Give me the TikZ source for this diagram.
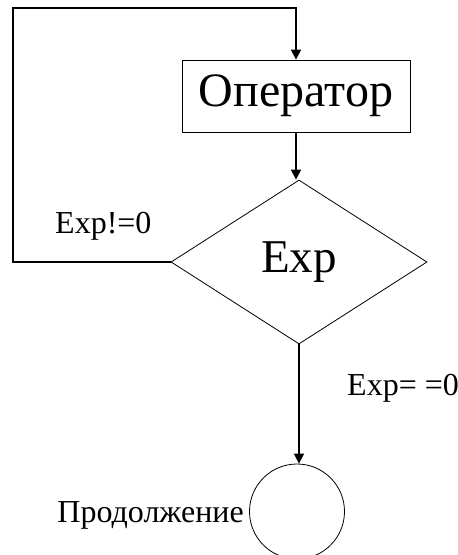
\documentclass[tikz,border=0pt]{standalone}
\usepackage{fontspec}
\setmainfont{Liberation Serif}
\usetikzlibrary{shapes.geometric,arrows.meta}

\begin{document}
\begin{tikzpicture}
[x=1pt, y=-1pt, draw=black,
block/.style={rectangle, draw, line width=0.8pt, inner sep=0pt,
    minimum width=228pt, minimum height=72pt, font=\fontsize{48}{52}\selectfont},
test/.style={diamond, draw, line width=0.8pt, inner sep=0pt,
    minimum width=256pt, minimum height=164pt, font=\fontsize{47}{50}\selectfont},
stop/.style={circle, draw, line width=0.8pt, inner sep=0pt, minimum size=95pt},
note/.style={inner sep=0pt, font=\fontsize{32}{34}\selectfont},
wire/.style={line width=1.6pt},
flow/.style={wire, -{Triangle[length=10pt, width=10pt]}}]

\useasboundingbox (0,0) rectangle (458,555);

\node[block] (op) at (296, 96) {Оператор};
\node[test] (exp) at (299, 262) {Exp};
\node[stop] (cont) at (297, 511.5) {};
\coordinate (back) at (13, 8);

% loop back while the condition holds
\draw[flow] (op.south) -- (op.south |- exp.north);
\draw[flow] (exp.west) -| (back) -| (op.north);
\draw[flow] (exp.south) -- (exp.south |- cont.north);

\node[note, anchor=base west] (ne) at (55, 233) {Exp!=0};
\node[note, anchor=base west] (eq) at (347, 395) {Exp= =0};
\node[note, anchor=base east] (next) at (244, 522) {Продолжение};

\end{tikzpicture}
\end{document}
